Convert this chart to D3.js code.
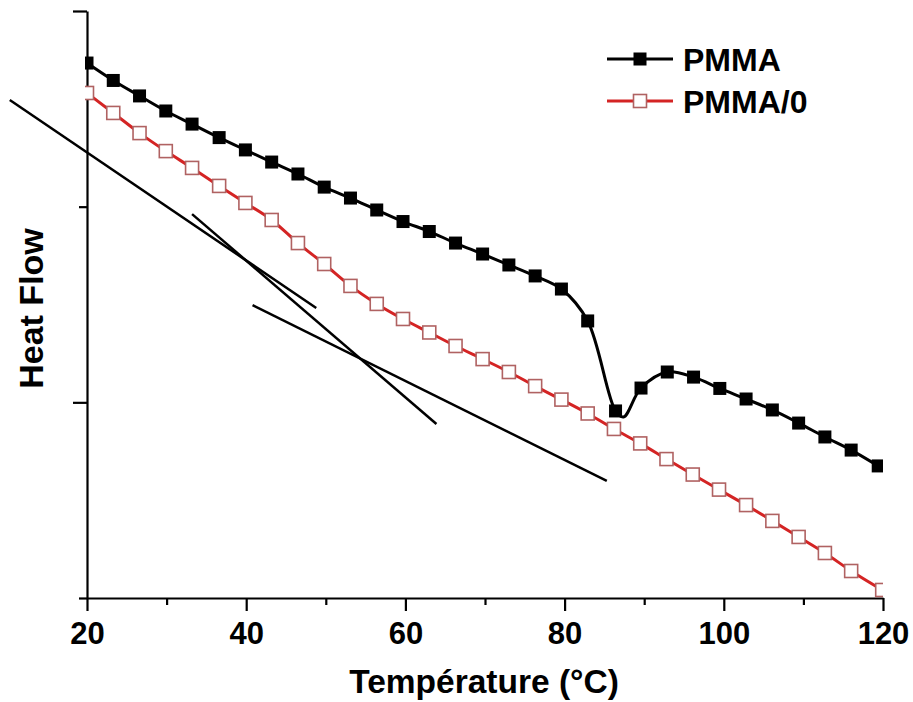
<!DOCTYPE html>
<html>
<head>
<meta charset="utf-8">
<script src="https://cdn.jsdelivr.net/npm/d3@7"></script>
<style>
  html, body { margin: 0; padding: 0; background: #fff; }
  svg { display: block; }
  text { font-family: "Liberation Sans", Arial, sans-serif; font-weight: bold; fill: #000; }
</style>
</head>
<body>
<svg id="chart" width="913" height="702"></svg>
<script>
// ---- data ----
const pmmaT = [20.0, 23.3, 26.6, 29.9, 33.2, 36.6, 39.9, 43.2, 46.5, 49.8, 53.1, 56.4, 59.7, 63.0, 66.3, 69.7, 73.0, 76.3, 79.6, 82.9, 86.4, 89.6, 92.9, 96.2, 99.5, 102.8, 106.1, 109.4, 112.7, 116.0, 119.4];
const pmmaV = [2.734, 2.645, 2.566, 2.489, 2.422, 2.353, 2.290, 2.228, 2.167, 2.100, 2.044, 1.983, 1.924, 1.873, 1.814, 1.758, 1.702, 1.646, 1.579, 1.416, 0.956, 1.073, 1.155, 1.129, 1.071, 1.017, 0.961, 0.894, 0.823, 0.756, 0.675];
// extra curve point: bottom of the glass-transition dip (line only, no marker)
const pmmaDipT = [87.4];
const pmmaDipV = [0.925];

const pmma0T = [20.0, 23.3, 26.6, 29.9, 33.2, 36.6, 39.9, 43.2, 46.5, 49.8, 53.1, 56.4, 59.7, 63.0, 66.3, 69.7, 73.0, 76.3, 79.6, 82.9, 86.2, 89.5, 92.8, 96.1, 99.4, 102.8, 106.1, 109.4, 112.7, 116.0, 119.9];
const pmma0V = [2.581, 2.479, 2.376, 2.284, 2.198, 2.106, 2.019, 1.932, 1.814, 1.707, 1.595, 1.503, 1.426, 1.357, 1.288, 1.221, 1.155, 1.083, 1.014, 0.943, 0.864, 0.790, 0.710, 0.631, 0.554, 0.475, 0.394, 0.312, 0.230, 0.138, 0.041];

// tangent construction lines [t1, v1, t2, v2]
const tangentLines = [
  [10.3, 2.545, 48.8, 1.482],
  [33.2, 1.962, 63.9, 0.889],
  [40.8, 1.497, 85.3, 0.598]
];

const xMajorTicks = [20, 40, 60, 80, 100, 120];
const xMinorTicks = [30, 50, 70, 90, 110];
const yMajorTicks = [1, 3];
const yMinorTicks = [0, 2];

const seriesNames = ["PMMA", "PMMA/0"];
const xTitle = "Température (°C)";
const yTitle = "Heat Flow";

// ---- layout ----
const svg = d3.select("#chart");
const x = d3.scaleLinear().domain([20, 120]).range([87, 883]);
const y = d3.scaleLinear().domain([0, 3]).range([598, 11]);

svg.append("defs").append("clipPath").attr("id", "plotclip")
  .append("rect").attr("x", 85).attr("y", 0).attr("width", 883 - 85).attr("height", 598);

// axes
const xAxisMajor = d3.axisBottom(x).tickValues(xMajorTicks).tickSize(13).tickSizeOuter(0).tickPadding(10);
const gx = svg.append("g").attr("transform", `translate(0,${y(0)})`).call(xAxisMajor);
gx.select(".domain").attr("stroke-width", 2.2);
gx.selectAll(".tick line").attr("stroke-width", 2.2);
gx.selectAll(".tick text").style("font-size", "31px").attr("dy", "0.71em").attr("y", 24);

const gxm = svg.append("g").attr("transform", `translate(0,${y(0)})`)
  .call(d3.axisBottom(x).tickValues(xMinorTicks).tickSize(7).tickFormat(""));
gxm.select(".domain").remove();
gxm.selectAll(".tick line").attr("stroke-width", 2.2);

const gy = svg.append("g").attr("transform", `translate(${x(20)},0)`)
  .call(d3.axisLeft(y).tickValues(yMajorTicks).tickSize(14).tickSizeOuter(0).tickFormat(""));
gy.select(".domain").attr("stroke-width", 2.2);
gy.selectAll(".tick line").attr("stroke-width", 2.2);
const gym = svg.append("g").attr("transform", `translate(${x(20)},0)`)
  .call(d3.axisLeft(y).tickValues(yMinorTicks).tickSize(8).tickFormat(""));
gym.select(".domain").remove();
gym.selectAll(".tick line").attr("stroke-width", 2.2);

// axis titles
svg.append("text").attr("x", (x(20) + x(120)) / 2 - 1).attr("y", 693)
  .attr("text-anchor", "middle").style("font-size", "33.5px").text(xTitle);
svg.append("text").attr("transform", `translate(43,${(y(0) + y(3)) / 2 + 4}) rotate(-90)`)
  .attr("text-anchor", "middle").style("font-size", "34px").text(yTitle);

// tangent lines (not clipped)
svg.append("g").selectAll("line").data(tangentLines).join("line")
  .attr("x1", d => x(d[0])).attr("y1", d => y(d[1]))
  .attr("x2", d => x(d[2])).attr("y2", d => y(d[3]))
  .attr("stroke", "#000").attr("stroke-width", 2.5);

// series
const pmma = pmmaT.map((t, i) => ({ t, v: pmmaV[i] }));
const pmmaLine = pmma.concat(pmmaDipT.map((t, i) => ({ t, v: pmmaDipV[i] }))).sort((a, b) => a.t - b.t);
const pmma0 = pmma0T.map((t, i) => ({ t, v: pmma0V[i] }));

const line0 = d3.line().x(d => x(d.t)).y(d => y(d.v)).curve(d3.curveMonotoneX);
const line1 = d3.line().x(d => x(d.t)).y(d => y(d.v)).curve(d3.curveCatmullRom.alpha(0.5));
const plot = svg.append("g").attr("clip-path", "url(#plotclip)");

plot.append("path").datum(pmma0).attr("d", line0)
  .attr("fill", "none").attr("stroke", "#d42424").attr("stroke-width", 3);
plot.append("path").datum(pmmaLine).attr("d", line1)
  .attr("fill", "none").attr("stroke", "#000").attr("stroke-width", 3);

const ms = 13;
plot.append("g").selectAll("rect").data(pmma0).join("rect")
  .attr("x", d => x(d.t) - ms / 2).attr("y", d => y(d.v) - ms / 2)
  .attr("width", ms).attr("height", ms)
  .attr("fill", "#fff").attr("stroke", "#b06262").attr("stroke-width", 1.6);
plot.append("g").selectAll("rect").data(pmma).join("rect")
  .attr("x", d => x(d.t) - ms / 2).attr("y", d => y(d.v) - ms / 2)
  .attr("width", ms).attr("height", ms).attr("fill", "#000");

// legend
const legend = svg.append("g");
const legendItems = [
  { name: seriesNames[0], y: 59, stroke: "#000", fill: "#000", mstroke: "none" },
  { name: seriesNames[1], y: 101, stroke: "#d42424", fill: "#fff", mstroke: "#b06262" }
];
legendItems.forEach(it => {
  legend.append("line").attr("x1", 607).attr("x2", 673).attr("y1", it.y).attr("y2", it.y)
    .attr("stroke", it.stroke).attr("stroke-width", 3);
  legend.append("rect").attr("x", 640 - ms / 2).attr("y", it.y - ms / 2).attr("width", ms).attr("height", ms)
    .attr("fill", it.fill).attr("stroke", it.mstroke).attr("stroke-width", 1.6);
  legend.append("text").attr("x", 683).attr("y", it.y + 11.5).style("font-size", "32px").text(it.name);
});
</script>
</body>
</html>
